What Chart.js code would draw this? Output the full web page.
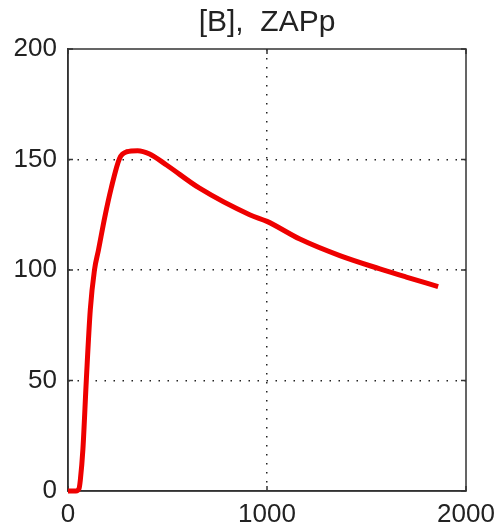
<!DOCTYPE html>
<html>
<head>
<meta charset="utf-8">
<script src="https://cdn.jsdelivr.net/npm/chart.js@4"></script>
<style>
    body { margin: 0; background: #fff; }
    #wrap { width: 500px; height: 527px; }
</style>
</head>
<body>
<div id="wrap"><canvas id="zapChart" width="500" height="527"></canvas></div>
<script>
// values
const titleText = '[B],  ZAPp';
const xValues = [0, 40, 55, 62, 75, 92, 112, 133, 153, 185, 217, 259, 295, 350, 410, 495, 661, 913, 1000, 1165, 1366, 1567, 1700, 1860];
const yValues = [0, 0, 1, 5, 19, 50, 82, 100, 109, 124, 137, 150.5, 153.5, 154, 152.5, 147.5, 137, 125, 122, 114, 106.5, 100.5, 96.8, 92.5];
const xTicks = [0, 1000, 2000];
const yTicks = [0, 50, 100, 150, 200];

const points = xValues.map((x, i) => ({ x: x, y: yValues[i] }));
const fontFamily = '"Liberation Sans", Arial, sans-serif';

// matlab style box with inward ticks, title centred over the axes
const boxPlugin = {
    id: 'box',
    beforeDatasetsDraw(chart) {
        const { ctx, chartArea: a, scales } = chart;
        ctx.save();
        ctx.strokeStyle = '#333';
        ctx.lineWidth = 1.5;
        ctx.strokeRect(a.left, a.top, a.right - a.left, a.bottom - a.top);
        ctx.beginPath();
        xTicks.forEach(v => {
            const px = scales.x.getPixelForValue(v);
            ctx.moveTo(px, a.top); ctx.lineTo(px, a.top + 5);
            ctx.moveTo(px, a.bottom); ctx.lineTo(px, a.bottom - 5);
        });
        yTicks.forEach(v => {
            const py = scales.y.getPixelForValue(v);
            ctx.moveTo(a.left, py); ctx.lineTo(a.left + 5, py);
            ctx.moveTo(a.right, py); ctx.lineTo(a.right - 5, py);
        });
        ctx.stroke();
        ctx.restore();
    },
    afterDraw(chart) {
        const { ctx, chartArea: a } = chart;
        ctx.save();
        ctx.fillStyle = '#222';
        ctx.font = '30px ' + fontFamily;
        ctx.textAlign = 'center';
        ctx.textBaseline = 'alphabetic';
        ctx.fillText(titleText, (a.left + a.right) / 2, 31);
        ctx.restore();
    }
};

function gridColor(max) {
    return function(c) {
        if (!c.tick) return 'transparent';
        return (c.tick.value === 0 || c.tick.value === max) ? 'transparent' : '#222';
    };
}

const ctx = document.getElementById('zapChart').getContext('2d');
const zapChart = new Chart(ctx, {
    type: 'scatter',
    data: {
        datasets: [{
            data: points,
            showLine: true,
            borderColor: '#ee0000',
            backgroundColor: '#ee0000',
            borderWidth: 5,
            pointRadius: 0,
            tension: 0.4,
            cubicInterpolationMode: 'monotone',
            clip: 4
        }]
    },
    options: {
        responsive: false,
        animation: false,
        layout: {
            padding: { left: 0, right: 34, top: 49, bottom: 0 }
        },
        plugins: {
            legend: { display: false },
            tooltip: { enabled: false },
            title: { display: false }
        },
        scales: {
            x: {
                type: 'linear',
                min: 0,
                max: 2000,
                afterFit: s => { s.height = 36; s.paddingLeft = 0; s.paddingRight = 0; },
                afterBuildTicks: s => { s.ticks = xTicks.map(v => ({ value: v })); },
                grid: { color: gridColor(2000), lineWidth: 1.5, drawTicks: false },
                border: { display: true, color: '#333', width: 1.5, dash: [1.5, 7.5] },
                ticks: {
                    color: '#222',
                    padding: 8,
                    maxRotation: 0,
                    font: { family: fontFamily, size: 26 },
                    callback: v => String(v)
                }
            },
            y: {
                min: 0,
                max: 200,
                afterFit: s => { s.width = 68; s.paddingTop = 0; s.paddingBottom = 0; },
                afterBuildTicks: s => { s.ticks = yTicks.map(v => ({ value: v })); },
                grid: { color: gridColor(200), lineWidth: 1.5, drawTicks: false },
                border: { display: true, color: '#333', width: 1.5, dash: [1.5, 7.5] },
                ticks: {
                    color: '#222',
                    padding: 11,
                    font: { family: fontFamily, size: 26 },
                    callback: v => String(v)
                }
            }
        }
    },
    plugins: [boxPlugin]
});
</script>
</body>
</html>
